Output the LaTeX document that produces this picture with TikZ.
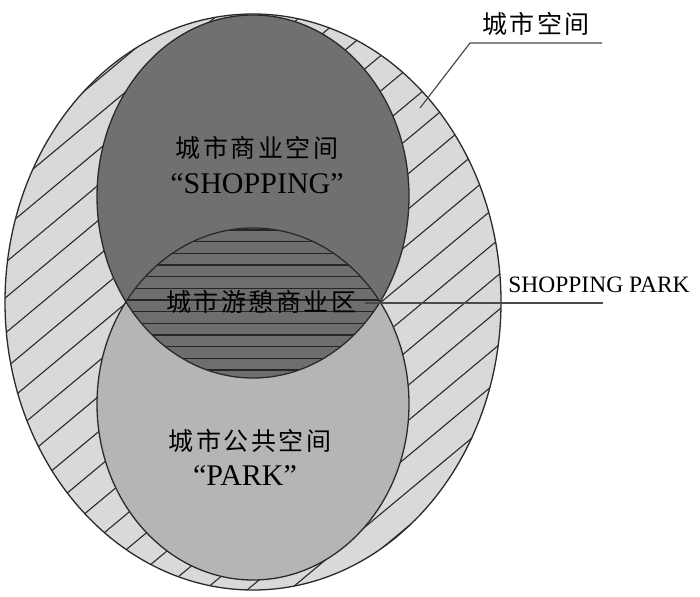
\documentclass[tikz,border=0pt]{standalone}
\usepackage{fontspec}
\setmainfont{Liberation Serif}
\newfontfamily\cjk[LetterSpace=10]{Noto Sans CJK SC}
\definecolor{outerfill}{HTML}{D9D9D9}
\definecolor{topfill}{HTML}{707070}
\definecolor{botfill}{HTML}{B5B5B5}
\definecolor{lensfill}{HTML}{6E6E6E}
\definecolor{edge}{HTML}{2A2A2A}
\definecolor{leadcol}{HTML}{4A4A4A}
\tikzset{
  outline/.style={draw=edge, line width=1.3pt},
  hatch/.style={draw=edge, line width=1.1pt},
  lensline/.style={draw=black!85, line width=1.2pt},
  leader/.style={draw=leadcol, line width=1.2pt},
  cjklabel/.style={inner sep=0pt, font=\cjk\fontsize{25}{26}\selectfont},
  latlabel/.style={inner sep=0pt, font=\fontsize{30}{30}\selectfont},
  splabel/.style={inner sep=0pt, font=\fontsize{23.5}{24}\selectfont}
}
\begin{document}
\begin{tikzpicture}[x=1pt,y=-1pt]
\useasboundingbox (0,0) rectangle (700,596);
% outer ellipse: urban space
\fill[outerfill] (253,302) ellipse [x radius=248, y radius=288];
\begin{scope}
  \clip (253,302) ellipse [x radius=248, y radius=288];
  \foreach \k in {-10,...,22} {
    \draw[hatch] (0,{302.3+35.25*\k}) -- (700,{302.3+35.25*\k-583.1});
  }
\end{scope}
\draw[outline] (253,302) ellipse [x radius=248, y radius=288];
% top and bottom circles
\fill[topfill] (253,196.5) ellipse [x radius=156, y radius=181.5];
\fill[botfill] (253,404) ellipse [x radius=156, y radius=176];
% lens
\begin{scope}
  \clip (253,196.5) ellipse [x radius=156, y radius=181.5];
  \fill[lensfill] (253,404) ellipse [x radius=156, y radius=176];
  \clip (253,404) ellipse [x radius=156, y radius=176];
  \foreach \k in {-7,...,7} {
    \draw[lensline] (90,{300+11.67*\k}) -- (420,{300+11.67*\k});
  }
\end{scope}
\draw[outline] (253,196.5) ellipse [x radius=156, y radius=181.5];
\draw[outline] (253,404) ellipse [x radius=156, y radius=176];
% labels
\node[cjklabel] (shopcn) at (257,148) {城市商业空间};
\node[latlabel] (shopen) at (257,184) {“SHOPPING”};
\node[cjklabel] (parkcn) at (250,441) {城市公共空间};
\node[latlabel] (parken) at (245,476) {“PARK”};
\node[cjklabel] (lens) at (261,302) {城市游憩商业区};
\node[cjklabel] (city) at (536,24) {城市空间};
\node[splabel] (sp) at (599,285) {SHOPPING PARK};
% leaders
\coordinate (cityend) at (602,43);
\coordinate (cityknee) at (470,43);
\coordinate (cityarea) at (420,108);
\draw[leader] (cityend) -- (cityknee) -- (cityarea);
\coordinate (spstart) at (365,303);
\coordinate (spend) at (603,303);
\draw[leader] (spstart) -- (spend);
\end{tikzpicture}
\end{document}
